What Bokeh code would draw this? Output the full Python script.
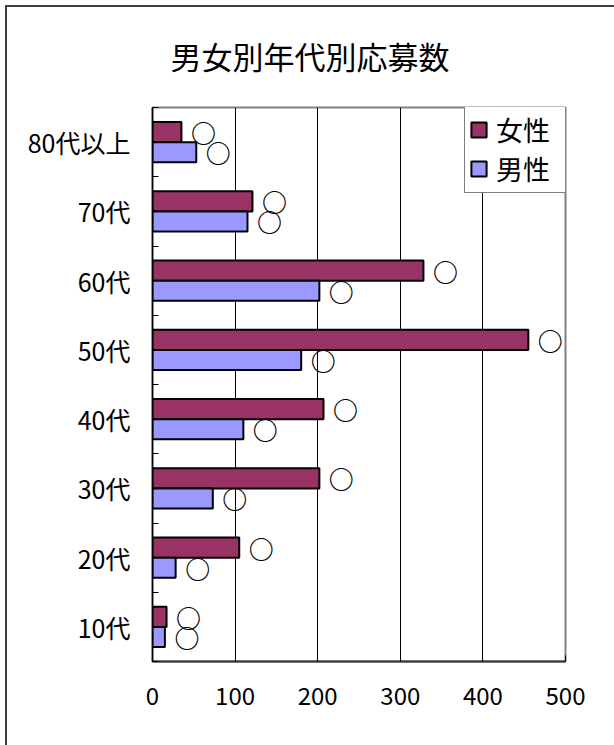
from bokeh.plotting import figure
from bokeh.models import ColumnDataSource, FixedTicker, Range1d, Legend, LegendItem
from bokeh.embed import file_html
from bokeh.resources import INLINE
from bokeh.core.properties import value

# ---- data ----
categories = ["10代", "20代", "30代", "40代", "50代", "60代", "70代", "80代以上"]
female = [17, 105, 202, 207, 455, 328, 121, 35]
male = [15, 28, 73, 110, 180, 202, 115, 53]
series_names = ["女性", "男性"]
x_ticks = [0, 100, 200, 300, 400, 500]
title_text = "男女別年代別応募数"
marker_text = "○"

FONT = "Noto Sans CJK JP"
n = len(categories)
centers = [i + 0.5 for i in range(n)]
dodge = 0.145
src = ColumnDataSource(dict(
    cat=categories,
    yf=[c + dodge for c in centers],
    ym=[c - dodge for c in centers],
    female=female,
    male=male,
    mark=[marker_text] * n,
))

p = figure(width=614, height=745,
           x_range=Range1d(x_ticks[0], x_ticks[-1]), y_range=Range1d(0, n),
           output_backend="svg", toolbar_location=None,
           min_border_left=152, min_border_right=49,
           min_border_top=107, min_border_bottom=84)
p.styles = {"box-shadow": "inset 5px 5px 0 0 white, inset 7px 7px 0 0 #404040"}
p.background_fill_color = "white"
p.border_fill_color = None
p.outline_line_color = "#808080"
p.outline_line_width = 2

p.title.text = title_text
p.title.align = "left"
p.title.offset = 18
p.title.text_font = FONT
p.title.text_font_size = "31px"
p.title.text_font_style = "normal"
p.title.text_color = "black"
p.title.standoff = 60

rf = p.hbar(y="yf", left=0, right="female", height=0.29, source=src,
            fill_color="#993366", line_color="black", line_width=2)
rm = p.hbar(y="ym", left=0, right="male", height=0.29, source=src,
            fill_color="#9999FF", line_color="black", line_width=2)

for col, ycol in (("female", "yf"), ("male", "ym")):
    p.text(x=col, y=ycol, text="mark", source=src, x_offset=22,
           text_align="center", text_baseline="middle",
           text_font=value(FONT), text_font_size="25px",
           text_font_style="bold", text_color="black")

# grid
p.ygrid.visible = False
p.xgrid.ticker = FixedTicker(ticks=x_ticks[1:-1])
p.xgrid.grid_line_color = "black"
p.xgrid.grid_line_width = 1

# x axis
xa = p.xaxis[0]
xa.ticker = FixedTicker(ticks=x_ticks)
xa.major_label_text_font = FONT
xa.major_label_text_font_size = "24px"
xa.major_label_text_color = "black"
xa.major_tick_in = 6
xa.major_tick_out = 0
xa.major_tick_line_color = "black"
xa.minor_tick_line_color = None
xa.axis_line_color = "#333333"
xa.axis_line_width = 2
xa.major_label_standoff = 25

# y axis
ya = p.yaxis[0]
ya.ticker = FixedTicker(ticks=centers, minor_ticks=list(range(n + 1)))
ya.major_label_overrides = {c: lab for c, lab in zip(centers, categories)}
ya.major_label_text_font = FONT
ya.major_label_text_font_size = "25px"
ya.major_label_text_color = "black"
ya.major_tick_in = 0
ya.major_tick_out = 0
ya.minor_tick_in = 6
ya.minor_tick_out = 0
ya.minor_tick_line_color = "black"
ya.axis_line_color = "black"
ya.axis_line_width = 1.5
ya.major_label_standoff = 22

legend = Legend(items=[LegendItem(label=series_names[0], renderers=[rf]),
                       LegendItem(label=series_names[1], renderers=[rm])],
                location=(312, 468))
legend.label_text_font = FONT
legend.label_text_font_size = "27px"
legend.label_text_color = "black"
legend.glyph_width = 19
legend.glyph_height = 19
legend.label_height = 30
legend.label_width = 70
legend.label_standoff = 8
legend.padding = 4
legend.spacing = 0
legend.margin = 0
legend.border_line_color = "black"
legend.border_line_width = 1
legend.background_fill_color = "white"
legend.background_fill_alpha = 1
p.add_layout(legend)

open("out.html", "w").write(file_html(p, INLINE))
